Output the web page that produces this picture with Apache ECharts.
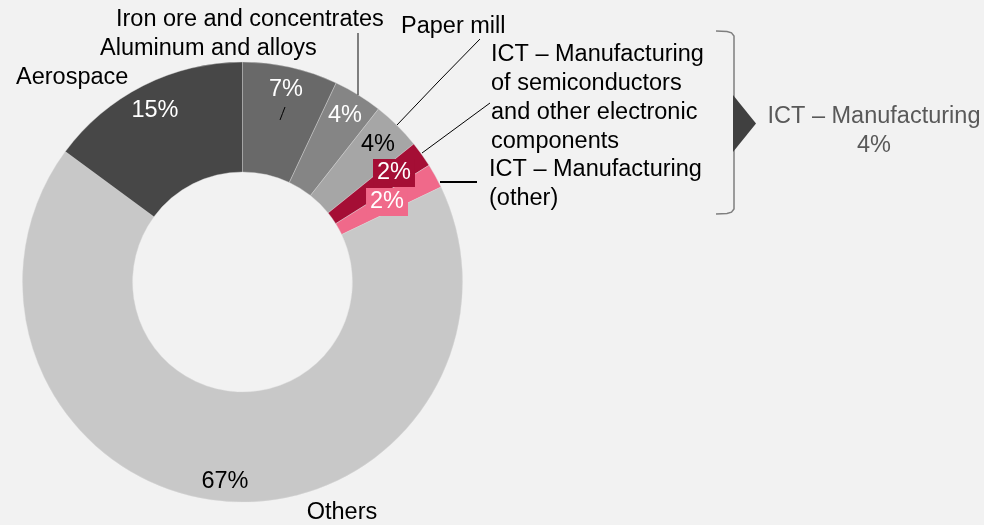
<!DOCTYPE html>
<html>
<head>
<meta charset="utf-8">
<script src="https://cdn.jsdelivr.net/npm/echarts@6/dist/echarts.min.js"></script>
<style>
html,body{margin:0;padding:0;background:#f2f2f2;}
#chart{width:984px;height:525px;}
</style>
</head>
<body>
<div id="chart"></div>
<script>
// ---- data ----
const categories = [
  'Aluminum and alloys',
  'Iron ore and concentrates',
  'Paper mill',
  'ICT – Manufacturing\nof semiconductors\nand other electronic\ncomponents',
  'ICT – Manufacturing\n(other)',
  'Others',
  'Aerospace'
];
const shares = [7.0, 3.6, 3.6, 1.9, 1.8, 67.2, 14.9];
const ictGroup = [3, 4];           // indices combined in the bracket
const ictGroupName = 'ICT – Manufacturing';

// ---- styles / layout (kept separate from data) ----
const colors = ['#696969', '#858585', '#a6a6a6', '#a50e35', '#f0698a', '#c8c8c8', '#474747'];
const pctColor = ['#fff', '#fff', '#000', '#fff', '#fff', '#000', '#fff'];
const pctBg = [null, null, null, '#a50e35', '#f0698a', null, null];
const pctPos = [[286, 90], [345, 116], [378, 145], [394, 173], [387, 202], [225, 482], [155, 111]];
const namePos = [
  {x: 100, y: 48.5, align: 'left'},
  {x: 116, y: 19.5, align: 'left'},
  {x: 401, y: 27, align: 'left'},
  {x: 491, y: 98.5, align: 'left'},
  {x: 489, y: 184.5, align: 'left'},
  {x: 342, y: 513, align: 'center'},
  {x: 16, y: 77.5, align: 'left'}
];
const linePts = [
  [[280, 120], [282.5, 113.5], [285, 107]],
  [[358, 95], [358, 64], [358, 33]],
  [[397, 125], [438, 82], [480, 39]],
  [[422, 153], [456, 128], [490, 103]],
  [[440, 182], [458, 182], [477, 182]],
  null,
  null
];
const lineStyles = [
  {color: '#000', width: 1},
  {color: '#404040', width: 1.3},
  {color: '#000', width: 1},
  {color: '#000', width: 1},
  {color: '#000', width: 2},
  null, null
];

const FONT = '"Liberation Sans", Arial, sans-serif';
const FS = 23.5;
const center = [242.5, 282];
const radius = [110, 220];

const chart = echarts.init(document.getElementById('chart'));

const pctData = shares.map((v, i) => ({
  name: categories[i],
  value: v,
  itemStyle: {color: colors[i]},
  label: Object.assign({color: pctColor[i]},
    pctBg[i] ? {backgroundColor: pctBg[i], padding: [3, 4, 1, 4]} : {})
}));

const nameData = shares.map((v, i) => ({
  name: categories[i],
  value: v,
  labelLine: linePts[i] ? {show: true, lineStyle: lineStyles[i]} : {show: false}
}));

const groupTotal = ictGroup.reduce((s, i) => s + shares[i], 0);

chart.setOption({
  backgroundColor: '#f2f2f2',
  animation: false,
  series: [
    {
      type: 'pie',
      z: 2,
      center: center,
      radius: radius,
      startAngle: 90,
      clockwise: true,
      avoidLabelOverlap: false,
      itemStyle: {borderColor: '#d9d9d9', borderWidth: 0.4},
      label: {
        show: true,
        position: 'inside',
        fontFamily: FONT,
        fontSize: FS,
        formatter: p => Math.round(p.value) + '%'
      },
      labelLine: {show: false},
      labelLayout: p => ({
        x: pctPos[p.dataIndex][0],
        y: pctPos[p.dataIndex][1],
        align: 'center',
        verticalAlign: 'middle'
      }),
      data: pctData
    },
    {
      type: 'pie',
      z: 5,
      center: center,
      radius: radius,
      startAngle: 90,
      clockwise: true,
      silent: true,
      avoidLabelOverlap: false,
      itemStyle: {color: 'rgba(0,0,0,0)'},
      label: {
        show: true,
        position: 'outside',
        fontFamily: FONT,
        fontSize: FS,
        color: '#000',
        lineHeight: 29,
        formatter: p => p.name
      },
      labelLine: {show: true, length: 5, length2: 5},
      labelLayout: p => {
        const np = namePos[p.dataIndex];
        const o = {x: np.x, y: np.y, align: np.align, verticalAlign: 'middle'};
        if (linePts[p.dataIndex]) o.labelLinePoints = linePts[p.dataIndex];
        return o;
      },
      data: nameData
    }
  ],
  graphic: [
    {
      type: 'polyline',
      shape: {points: [[716, 31], [727, 31.5], [731.5, 32.8], [734, 36], [734, 209], [731.5, 212.2], [727, 213.5], [716, 214]]},
      style: {fill: 'none', stroke: '#7f7f7f', lineWidth: 1.5}
    },
    {
      type: 'polygon',
      shape: {points: [[733, 95], [756, 123.5], [733, 152]]},
      style: {fill: '#404040'}
    },
    {
      type: 'text',
      x: 874,
      y: 131,
      style: {
        text: ictGroupName + '\n' + Math.round(groupTotal) + '%',
        align: 'center',
        verticalAlign: 'middle',
        fontFamily: FONT,
        fontSize: FS,
        lineHeight: 29.5,
        fill: '#595959'
      }
    }
  ]
});
</script>
</body>
</html>
